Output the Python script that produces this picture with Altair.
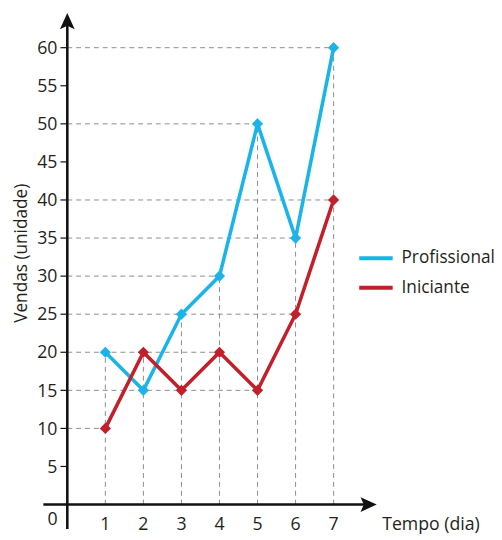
import altair as alt
import pandas as pd

# ---- data ----
days = [1, 2, 3, 4, 5, 6, 7]
profissional = [20, 15, 25, 30, 50, 35, 60]
iniciante = [10, 20, 15, 20, 15, 25, 40]
series_names = ["Profissional", "Iniciante"]
series_colors = ["#1CB4E8", "#C1202B"]
y_ticks = [5, 10, 15, 20, 25, 30, 35, 40, 45, 50, 55, 60]
x_ticks = [1, 2, 3, 4, 5, 6, 7]
x_title = "Tempo (dia)"
y_title = "Vendas (unidade)"

# axis extents (data units)
x_axis_span = [-0.63, 7.8]
y_axis_span = [-3.2, 63.0]
x_arrow_at = 7.94
y_arrow_at = 63.6
y_title_at = [-1.18, 33.0]

FONT = "Open Sans"
FS = 18
TXT = "#231F20"
GRID = "#8C8C8C"

xs = alt.Scale(domain=[-1.559, 11.216], nice=False, zero=False)
ys = alt.Scale(domain=[-3.83, 64.65], nice=False, zero=False)

long = pd.DataFrame(
    {"day": days * 2,
     "value": profissional + iniciante,
     "series": [series_names[0]] * len(days) + [series_names[1]] * len(days)}
)

# guide lines derived from the data: drop lines to each point
vgrid = long.groupby("day", as_index=False)["value"].max()
vgrid["base"] = 0
hgrid = long.groupby("value", as_index=False)["day"].max()
hgrid["base"] = 0

X = lambda f: alt.X(f, type="quantitative", scale=xs, axis=None)
Y = lambda f: alt.Y(f, type="quantitative", scale=ys, axis=None)

v_lines = alt.Chart(vgrid).mark_rule(color=GRID, strokeWidth=1, strokeDash=[5, 4]).encode(
    x=X("day"), y=Y("base"), y2="value")
h_lines = alt.Chart(hgrid).mark_rule(color=GRID, strokeWidth=1, strokeDash=[5, 4]).encode(
    y=Y("value"), x=X("base"), x2="day")

xaxis_df = pd.DataFrame({"a": [x_axis_span[0]], "b": [x_axis_span[1]], "y": [0]})
yaxis_df = pd.DataFrame({"a": [y_axis_span[0]], "b": [y_axis_span[1]], "x": [0]})
x_axis = alt.Chart(xaxis_df).mark_rule(color="#111", strokeWidth=2.6).encode(
    x=X("a"), x2="b", y=Y("y"))
y_axis = alt.Chart(yaxis_df).mark_rule(color="#111", strokeWidth=2.6).encode(
    y=Y("a"), y2="b", x=X("x"))

up_arrow = alt.Chart(pd.DataFrame({"x": [0], "y": [y_arrow_at]})).mark_point(
    shape="M0,-1L1,1.2L0,0.75L-1,1.2Z", filled=True, opacity=1, color="#111", size=225
).encode(x=X("x"), y=Y("y"))
right_arrow = alt.Chart(pd.DataFrame({"x": [x_arrow_at], "y": [0]})).mark_point(
    shape="M1,0L-1.2,-1L-0.75,0L-1.2,1Z", filled=True, opacity=1, color="#111", size=225
).encode(x=X("x"), y=Y("y"))

ytick_df = pd.DataFrame({"v": y_ticks, "a": [-0.18] * len(y_ticks), "b": [0] * len(y_ticks)})
y_tick_marks = alt.Chart(ytick_df).mark_rule(color="#111", strokeWidth=1.2).encode(
    y=Y("v"), x=X("a"), x2="b")
y_labels = alt.Chart(ytick_df).mark_text(
    align="right", baseline="alphabetic", dx=-10, dy=6.3, font=FONT, fontSize=FS, color=TXT
).encode(y=Y("v"), x=X("b"), text=alt.Text("v:Q"))

xtick_df = pd.DataFrame({"v": x_ticks, "z": [0] * len(x_ticks)})
x_labels = alt.Chart(xtick_df).mark_text(
    align="center", baseline="alphabetic", dy=25.5, font=FONT, fontSize=FS, color=TXT
).encode(x=X("v"), y=Y("z"), text=alt.Text("v:Q"))

origin = alt.Chart(pd.DataFrame({"x": [0], "y": [0], "t": ["0"]})).mark_text(
    align="center", baseline="alphabetic", dx=-15, dy=20.5, font=FONT, fontSize=FS, color=TXT
).encode(x=X("x"), y=Y("y"), text="t:N")

xt = alt.Chart(pd.DataFrame({"x": [x_arrow_at], "y": [0], "t": [x_title]})).mark_text(
    align="left", baseline="alphabetic", dx=13, dy=25.5, font=FONT, fontSize=FS, color=TXT
).encode(x=X("x"), y=Y("y"), text="t:N")

yt = alt.Chart(pd.DataFrame({"x": [y_title_at[0]], "y": [y_title_at[1]], "t": [y_title]})).mark_text(
    align="center", baseline="middle", angle=270, font=FONT, fontSize=17.5, color=TXT
).encode(x=X("x"), y=Y("y"), text="t:N")

color = alt.Color(
    "series:N",
    scale=alt.Scale(domain=series_names, range=series_colors),
    legend=alt.Legend(
        title=None, orient="none", legendX=362, legendY=238,
        symbolType="M-1.7,0H1.7", symbolSize=400, symbolStrokeWidth=4,
        labelFont=FONT, labelFontSize=17.5, labelColor=TXT, labelOffset=14,
        rowPadding=9, padding=0,
    ),
)

def series_layers(name, col):
    d = long[long["series"] == name]
    line = alt.Chart(d).mark_line(strokeWidth=3.6).encode(
        x=X("day"), y=Y("value"), color=color)
    pts = alt.Chart(d).mark_point(shape="diamond", filled=True, opacity=1, size=130, color=col).encode(
        x=X("day"), y=Y("value"))
    return line + pts

chart = alt.layer(
    h_lines, v_lines, x_axis, y_axis, up_arrow, right_arrow, y_tick_marks,
    y_labels, x_labels, origin, xt, yt,
    series_layers(series_names[0], series_colors[0]),
    series_layers(series_names[1], series_colors[1]),
).properties(
    width=494, height=530, padding=0,
    autosize=alt.AutoSizeParams(type="none"),
).configure(background="white").configure_view(stroke=None)

chart.save("out.html", embed_options={"renderer": "svg", "actions": False})
